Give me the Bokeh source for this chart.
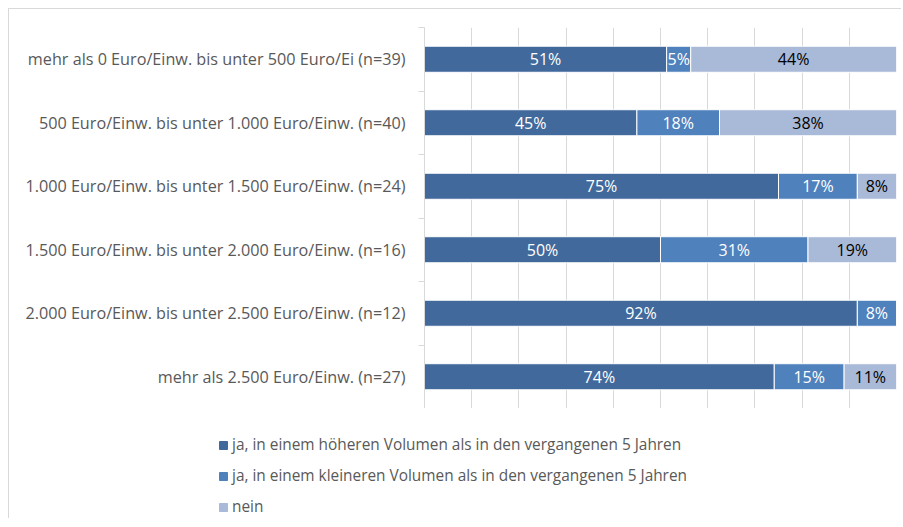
import numpy as np
from bokeh.plotting import figure
from bokeh.models import ColumnDataSource, FixedTicker, Legend, LegendItem, Range1d
from bokeh.core.properties import value
from bokeh.embed import file_html
from bokeh.resources import INLINE

categories = [
    "mehr als 0 Euro/Einw. bis unter 500 Euro/Ei (n=39)",
    "500 Euro/Einw. bis unter 1.000 Euro/Einw. (n=40)",
    "1.000 Euro/Einw. bis unter 1.500 Euro/Einw. (n=24)",
    "1.500 Euro/Einw. bis unter 2.000 Euro/Einw. (n=16)",
    "2.000 Euro/Einw. bis unter 2.500 Euro/Einw. (n=12)",
    "mehr als 2.500 Euro/Einw. (n=27)",
]
series_names = [
    "ja, in einem höheren Volumen als in den vergangenen 5 Jahren",
    "ja, in einem kleineren Volumen als in den vergangenen 5 Jahren",
    "nein",
]
hoeher = [51.3, 45.0, 75.0, 50.0, 91.7, 74.1]
kleiner = [5.1, 17.5, 16.7, 31.25, 8.3, 14.8]
nein = [43.6, 37.5, 8.3, 18.75, 0.0, 11.1]
label_hoeher = ["51%", "45%", "75%", "50%", "92%", "74%"]
label_kleiner = ["5%", "18%", "17%", "31%", "8%", "15%"]
label_nein = ["44%", "38%", "8%", "19%", "", "11%"]

colors = ["#41699B", "#4F81BD", "#A9B9D8"]
FONT = "Open Sans"
BORDER = "1px solid #D9D9D9"

n = len(categories)
ypos = list(range(n, 0, -1))  # first category at top

src = ColumnDataSource(dict(y=ypos, a=hoeher, b=kleiner, c=nein))

W = 893
p = figure(width=W, height=400, output_backend="svg", toolbar_location=None,
           x_range=Range1d(0, 100), y_range=Range1d(0.5, n + 0.5),
           min_border_left=415, min_border_right=6, min_border_top=18,
           min_border_bottom=1)
p.styles = {"border-top": BORDER, "border-left": BORDER,
            "margin-left": "8px", "margin-top": "8px"}
p.outline_line_color = None
p.background_fill_color = "white"
p.border_fill_color = "white"

rs = p.hbar_stack(["a", "b", "c"], y="y", height=0.41, color=colors,
                  line_color="white", line_width=1, source=src)

# data labels
cum = np.zeros(n)
for vals, labs, col in [(hoeher, label_hoeher, "white"),
                        (kleiner, label_kleiner, "white"),
                        (nein, label_nein, "black")]:
    v = np.array(vals)
    mids = cum + v / 2
    cum = cum + v
    ls = ColumnDataSource(dict(x=mids, y=ypos, t=labs))
    p.text(x="x", y="y", text="t", source=ls, text_align="center",
           text_baseline="middle", text_color=col,
           text_font=value(FONT), text_font_size="16px")

# axes
p.xaxis.visible = False
p.xgrid.ticker = FixedTicker(ticks=list(range(10, 101, 10)))
p.xgrid.grid_line_color = "#D9D9D9"
p.ygrid.grid_line_color = None

yax = p.yaxis[0]
yax.ticker = FixedTicker(ticks=ypos, minor_ticks=[i + 0.5 for i in range(0, n + 1)])
yax.major_label_overrides = {y: c for y, c in zip(ypos, categories)}
yax.major_tick_line_color = None
yax.minor_tick_line_color = "#D9D9D9"
yax.minor_tick_out = 6
yax.minor_tick_in = 0
yax.axis_line_color = "#D9D9D9"
yax.major_label_text_font = FONT
yax.major_label_text_font_size = "16.2px"
yax.major_label_text_color = "#595959"
yax.major_label_standoff = 13

# legend in its own strip below the chart
LH = 110
pl = figure(width=W, height=LH, output_backend="svg", toolbar_location=None,
            x_range=Range1d(0, W), y_range=Range1d(0, LH),
            min_border=0)
pl.styles = {"border-left": BORDER, "margin-left": "8px"}
pl.axis.visible = False
pl.grid.visible = False
pl.outline_line_color = None
lrs = [pl.hbar(y=[-100], left=[-100], right=[-99], height=1, color=c) for c in colors]
legend = Legend(items=[LegendItem(label=s, renderers=[r]) for s, r in zip(series_names, lrs)],
                location=(209, 1), orientation="vertical",
                glyph_width=10, glyph_height=10, label_height=20, spacing=10,
                label_standoff=4, padding=0, margin=0, border_line_color=None,
                background_fill_alpha=0,
                label_text_font=FONT, label_text_font_size="15.4px",
                label_text_color="#595959")
pl.add_layout(legend, "center")

open("out.html", "w").write(file_html([p, pl], INLINE))
